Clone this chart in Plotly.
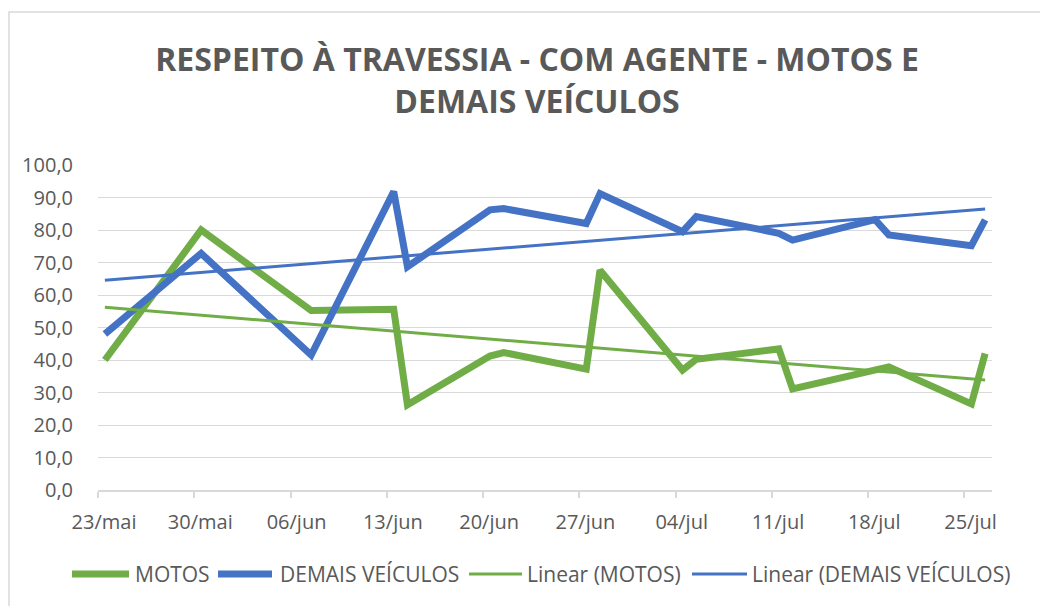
import numpy as np
import pandas as pd
import plotly.graph_objects as go

# ---- data ----
dates = ["2022-05-23", "2022-05-30", "2022-06-07", "2022-06-13", "2022-06-14",
         "2022-06-20", "2022-06-21", "2022-06-27", "2022-06-28", "2022-07-04",
         "2022-07-05", "2022-07-11", "2022-07-12", "2022-07-18", "2022-07-19",
         "2022-07-25", "2022-07-26"]
motos = [40.0, 80.0, 55.2, 55.6, 26.2, 41.2, 42.3, 37.2, 67.6, 36.9,
         40.2, 43.4, 31.1, 37.0, 37.9, 26.5, 42.0]
demais = [48.0, 72.8, 41.5, 91.8, 68.7, 86.2, 86.6, 82.0, 91.2, 79.5,
          84.1, 79.0, 76.9, 83.2, 78.5, 75.2, 83.1]

tick_dates = ["2022-05-23", "2022-05-30", "2022-06-06", "2022-06-13", "2022-06-20",
              "2022-06-27", "2022-07-04", "2022-07-11", "2022-07-18", "2022-07-25"]
tick_labels = ["23/mai", "30/mai", "06/jun", "13/jun", "20/jun",
               "27/jun", "04/jul", "11/jul", "18/jul", "25/jul"]
y_ticks = [0, 10, 20, 30, 40, 50, 60, 70, 80, 90, 100]
y_labels = ["0,0", "10,0", "20,0", "30,0", "40,0", "50,0", "60,0", "70,0", "80,0", "90,0", "100,0"]

series_names = ["MOTOS", "DEMAIS VEÍCULOS", "Linear (MOTOS)", "Linear (DEMAIS VEÍCULOS)"]
title = "RESPEITO À TRAVESSIA - COM AGENTE - MOTOS E<br>DEMAIS VEÍCULOS"

GREEN = "#70ad47"
BLUE = "#4472c4"
GRID = "#d9d9d9"
TXT = "#595959"
FONT = "Open Sans"

# Excel date axis puts each point in the middle of its day
d = pd.to_datetime(dates)
x = d + pd.Timedelta(hours=12)
days = np.array((d - d[0]).days, dtype=float)

def trend(vals):
    k, b = np.polyfit(days, np.array(vals), 1)
    return k * days + b

colors = [GREEN, BLUE, GREEN, BLUE]
widths = [7, 7, 3, 3]
ys = [motos, demais, trend(motos), trend(demais)]

fig = go.Figure()
for name, yv, c, w in zip(series_names, ys, colors, widths):
    fig.add_trace(go.Scatter(x=x, y=yv, mode="lines", name=name,
                             line=dict(color=c, width=w), showlegend=False))

# page body has an 8px margin: lay out in window pixels, then shift
OFF = 8
W, H = 1048 - OFF, 606 - OFF
L, R, T, B = 98 - OFF, 1048 - 992, 165 - OFF, 606 - 490
pw, ph = W - L - R, H - T - B

def px_x(p):  # window pixel -> paper
    return (p - OFF - L) / pw

def px_y(p):
    return (H - B - (p - OFF)) / ph

# manual legend (swatch start, swatch end, text start) in window pixels
leg_sw0 = [72, 218, 469, 692]
leg_sw1 = [129, 272, 522, 747]
leg_tx = [134, 279, 526, 751]
LEG_Y = 574

shapes = [dict(type="rect", xref="paper", yref="paper",
               x0=px_x(9), x1=px_x(1048 + 30), y0=px_y(606 + 30), y1=px_y(12),
               line=dict(color=GRID, width=1.5), fillcolor="rgba(0,0,0,0)",
               layer="below")]
annotations = []
for name, c, w, a, b, t in zip(series_names, colors, widths, leg_sw0, leg_sw1, leg_tx):
    shapes.append(dict(type="line", xref="paper", yref="paper",
                       x0=px_x(a), x1=px_x(b), y0=px_y(LEG_Y), y1=px_y(LEG_Y),
                       line=dict(color=c, width=w)))
    annotations.append(dict(text=name, xref="paper", yref="paper",
                            x=px_x(t), y=px_y(LEG_Y), xanchor="left", yanchor="middle",
                            showarrow=False, borderpad=0,
                            font=dict(family=FONT, size=21, color=TXT)))

fig.update_layout(
    width=W, height=H,
    margin=dict(l=L, r=R, t=T, b=B, autoexpand=False),
    paper_bgcolor="white", plot_bgcolor="white",
    font=dict(family=FONT, color=TXT, size=20),
    title=dict(text="<b>" + title + "</b>", font=dict(family=FONT, size=32, color=TXT),
               x=(537 - OFF) / W, xanchor="center", xref="container",
               y=1 - 63 / H, yanchor="top", yref="container"),
    showlegend=False,
    xaxis=dict(type="date",
               range=["2022-05-23", "2022-07-27"],
               tickvals=tick_dates, ticktext=tick_labels,
               showgrid=False, showline=True, linecolor=GRID, linewidth=1.5,
               ticks="outside", ticklen=6, tickcolor=GRID, tickwidth=1.5,
               ticklabelshift=6, ticklabelstandoff=7,
               tickfont=dict(size=20, color=TXT), zeroline=False),
    yaxis=dict(range=[0, 100], tickvals=y_ticks, ticktext=y_labels,
               showgrid=True, gridcolor=GRID, gridwidth=1,
               showline=False, zeroline=False, ticks="",
               ticklabelstandoff=24,
               tickfont=dict(size=20, color=TXT)),
    shapes=shapes,
    annotations=annotations,
)

fig.write_html("out.html")
